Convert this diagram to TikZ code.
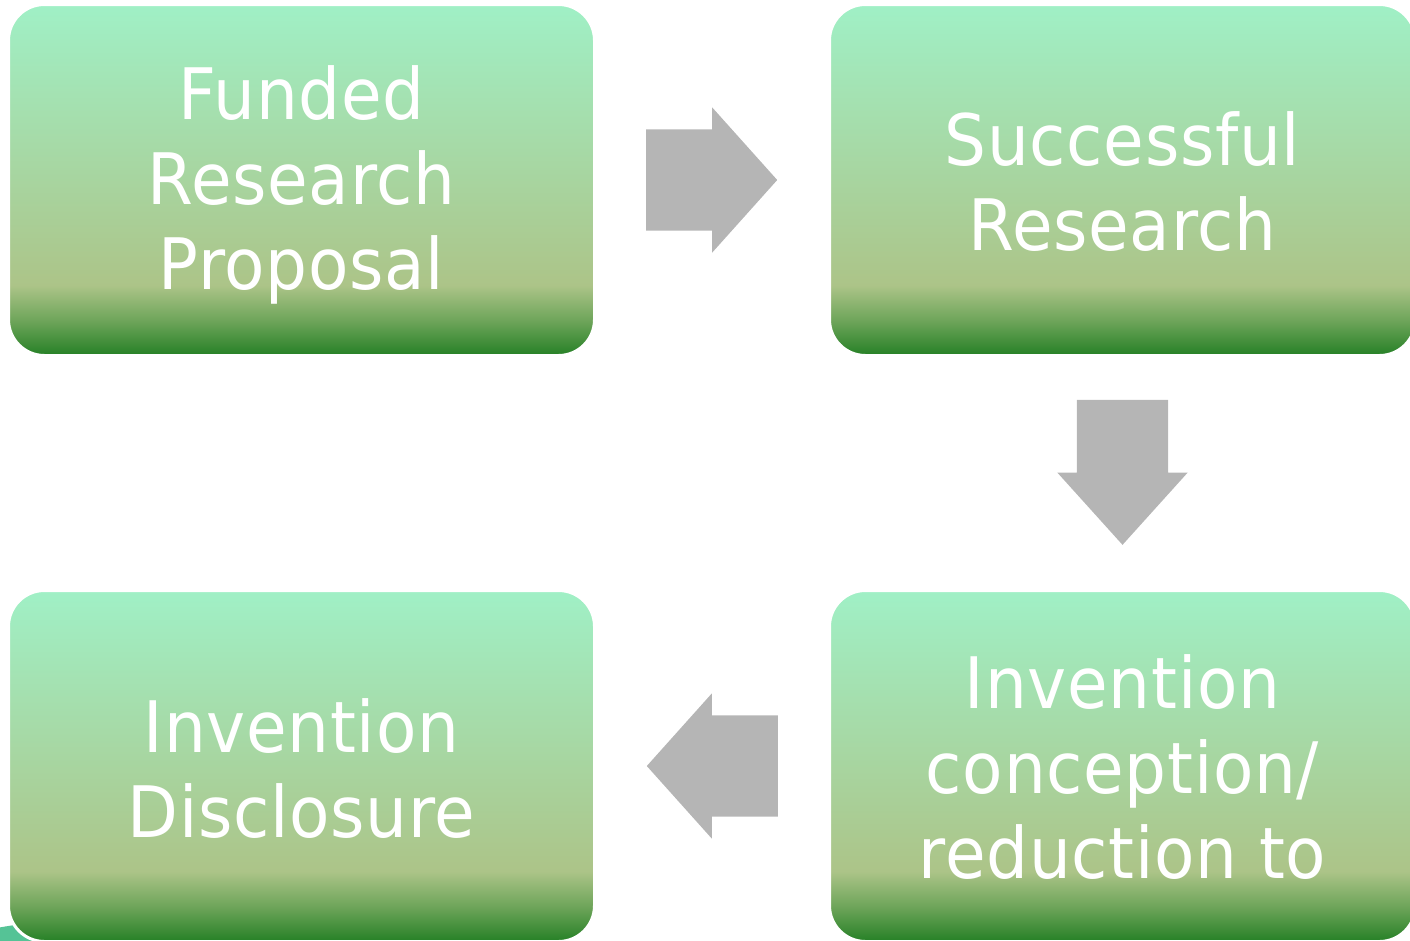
\documentclass[tikz,border=0pt]{standalone}
\usepackage{fontspec}
\setmainfont{DejaVu Sans}[FakeStretch=0.93,LetterSpace=1]
\usetikzlibrary{shapes.arrows,calc}
\definecolor{mint}{RGB}{160,240,198}
\definecolor{khaki}{RGB}{172,196,136}
\definecolor{midgreen}{RGB}{110,165,90}
\definecolor{dkgreen}{RGB}{38,128,38}
\definecolor{arrowgray}{RGB}{181,181,181}
\definecolor{blobteal}{RGB}{85,195,150}
\pgfdeclareverticalshading{boxshade}{100bp}{color(0bp)=(dkgreen); color(25bp)=(dkgreen); color(30bp)=(midgreen); color(35bp)=(khaki); color(75bp)=(mint); color(100bp)=(mint)}
\begin{document}
\begin{tikzpicture}[x=1pt,y=-1pt,
  stepbox/.style={rounded corners=36pt, minimum width=586pt, minimum height=351pt,
    shade, shading=boxshade, draw=white, line width=3pt, inner sep=0pt},
  boxtext/.style={text=white, align=center, inner sep=0pt,
    font=\fontsize{71}{85}\selectfont},
  blockarrow/.style={single arrow, fill=arrowgray, draw=none, inner xsep=0pt,
    single arrow head indent=0pt}]
\useasboundingbox (0,0) rectangle (1410,940);
\clip (0,0) rectangle (1410,940);
\fill[blobteal] (60,1040) ellipse (200 and 118);
\node[stepbox] (b1) at (301.5,180) {};
\node[stepbox] (b2) at (1122.5,180) {};
\node[stepbox] (b3) at (301.5,766) {};
\node[stepbox] (b4) at (1122.5,766) {};
\node[boxtext] (t1) at ([yshift=-5pt]b1.center) {Funded\\Research\\Proposal};
\node[boxtext] (t2) at ([yshift=-2pt]b2.center) {Successful\\Research};
\node[boxtext] (t3) at ([yshift=-3pt]b3.center) {Invention\\Disclosure};
\node[boxtext] (t4) at ([yshift=-1pt]b4.center) {Invention\\conception/\\reduction to};
\node[blockarrow, minimum height=131pt, inner ysep=50.5pt,
  single arrow head extend=22pt, single arrow tip angle=96.3]
  (a1) at ($($(b1.east)!0.5!(b2.west)$)+(-23,0)$) {};
\node[blockarrow, rotate=-90, minimum height=145pt, inner ysep=45.5pt,
  single arrow head extend=19.5pt, single arrow tip angle=84.1]
  (a2) at ($($(b2.south)!0.5!(b4.north)$)+(0,-26)$) {};
\node[blockarrow, rotate=180, minimum height=131pt, inner ysep=50.5pt,
  single arrow head extend=22pt, single arrow tip angle=96.3]
  (a3) at ($($(b4.west)!0.5!(b3.east)$)+(23,0)$) {};
\end{tikzpicture}
\end{document}
